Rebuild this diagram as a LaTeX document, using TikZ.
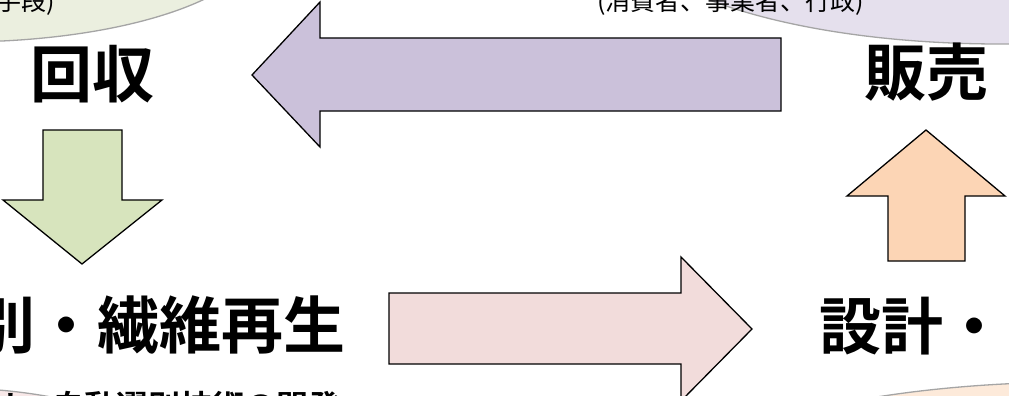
\documentclass[tikz,border=0pt]{standalone}
\usepackage{fontspec}
\newfontfamily\jp{Noto Sans CJK JP}[BoldFont={Noto Sans CJK JP Bold}]
\definecolor{purpleA}{RGB}{203,193,218}
\definecolor{greenA}{RGB}{215,228,189}
\definecolor{orangeA}{RGB}{252,213,181}
\definecolor{pinkA}{RGB}{242,220,219}
\definecolor{greenE}{RGB}{235,239,223}
\definecolor{lilacE}{RGB}{229,224,237}
\definecolor{peachE}{RGB}{253,234,218}
\definecolor{pinkE}{RGB}{248,232,232}
\definecolor{rimE}{RGB}{165,165,165}
\tikzset{
  blockarrow/.style={draw=black, line width=1.3pt, line join=miter},
  bubble/.style={draw=rimE, line width=1.3pt},
  bigtext/.style={font=\jp\bfseries\fontsize{62}{62}\selectfont, inner sep=0pt},
  smalltext/.style={font=\jp\fontsize{25}{25}\selectfont, inner sep=0pt},
  smallbold/.style={font=\jp\bfseries\fontsize{32}{32}\selectfont, inner sep=0pt}
}
\begin{document}
\begin{tikzpicture}[x=1pt,y=-1pt]
\useasboundingbox (0,0) rectangle (1009,396);
\clip (0,0) rectangle (1009,396);
\fill[white] (0,0) rectangle (1009,396);
% bubbles
\draw[bubble, fill=greenE] (-40,-60) ellipse [x radius=300, y radius=102];
\draw[bubble, fill=lilacE] (1000,-80) ellipse [x radius=380, y radius=124];
\draw[bubble, fill=peachE] (1080,500) ellipse [x radius=416, y radius=118];
\draw[bubble, fill=pinkE] (-50,520) ellipse [x radius=278, y radius=132];
% bubble texts
\node[smalltext, anchor=base west] (tl) at (-4,11) {手段)};
\node[smalltext, anchor=base west] (tm) at (597,11) {(消費者、事業者、行政)};
\node[smallbold, anchor=base west] (bl) at (-12,418) {は、自動選別技術の開発};
% block arrows
\draw[blockarrow, fill=purpleA] (781,38) -- (320,38) -- (320,2) -- (252,75)
  -- (320,147) -- (320,111) -- (781,111) -- cycle;
\draw[blockarrow, fill=greenA] (43,130) -- (122,130) -- (122,200) -- (162,200)
  -- (82,264) -- (3,200) -- (43,200) -- cycle;
\draw[blockarrow, fill=orangeA] (888,261) -- (888,196) -- (847,196) -- (926,130)
  -- (1005,196) -- (965,196) -- (965,261) -- cycle;
\draw[blockarrow, fill=pinkA] (389,293) -- (681,293) -- (681,257) -- (752,329)
  -- (681,401) -- (681,364) -- (389,364) -- cycle;
% stage labels
\node[bigtext] (kaishu) at (92,74) {回収};
\node[bigtext] (hanbai) at (926,72) {販売};
\node[bigtext, anchor=east] (saisei) at (346,325) {別・繊維再生};
\node[bigtext, anchor=west] (sekkei) at (819,326) {設計・};
\end{tikzpicture}
\end{document}
